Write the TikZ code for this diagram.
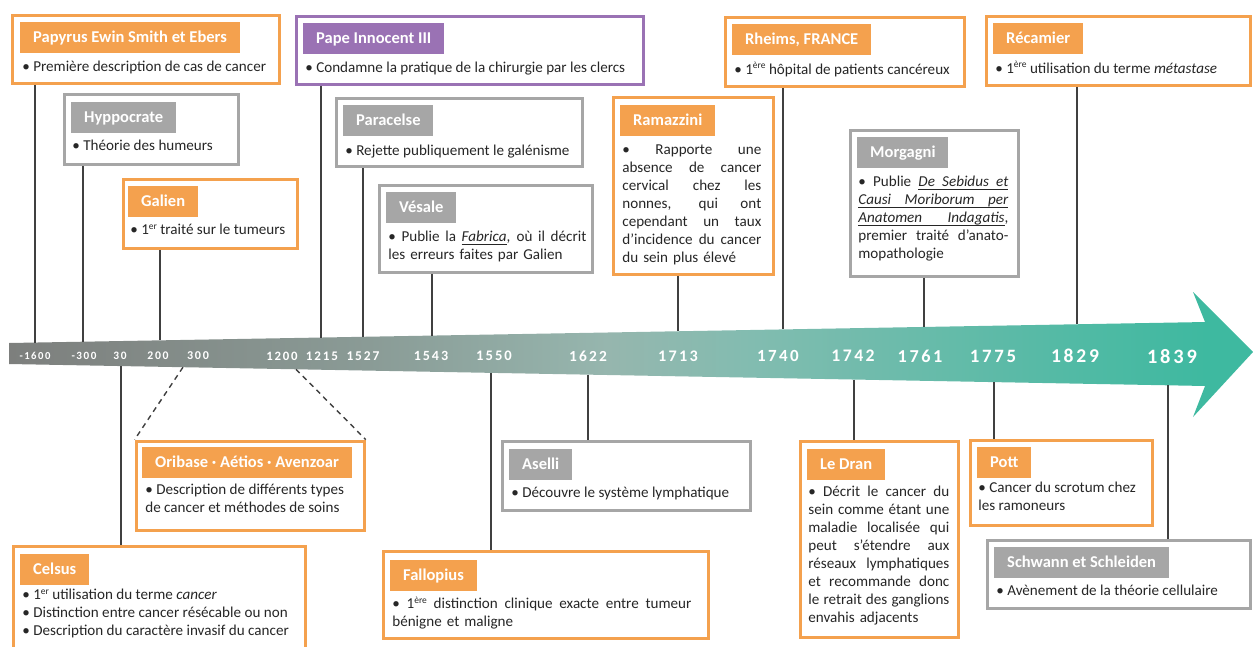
\documentclass[tikz,border=0pt]{standalone}
\usepackage{fontspec}
\setmainfont{Carlito}
\newfontfamily\yearfont[LetterSpace=14]{Carlito}
\usetikzlibrary{
  positioning,
  calc
}

\definecolor{evorange}{RGB}{244,161,78}
\definecolor{evgray}{RGB}{166,166,166}
\definecolor{evpurple}{RGB}{154,114,180}
\definecolor{bandgray}{RGB}{125,127,125}
\definecolor{bandmid}{RGB}{138,155,150}
\definecolor{bandlight}{RGB}{150,182,174}
\definecolor{bandsoft}{RGB}{130,188,176}
\definecolor{bandteal}{RGB}{62,185,160}

\pgfdeclarehorizontalshading{bandshade}{100bp}{color(0bp)=(bandgray); color(25bp)=(bandgray); color(40bp)=(bandmid); color(50bp)=(bandlight); color(56bp)=(bandsoft); color(75bp)=(bandteal); color(100bp)=(bandteal)}

\newcommand{\pxu}{0.02cm}
\newcommand{\titlefont}{\fontsize{9.4}{10}\selectfont\bfseries}
\newcommand{\bodyfont}{\fontsize{8.6}{10.25}\selectfont}
% justified line, small exponent, underlined word and underlined stretchable space
\newcommand{\jline}[1]{\makebox[\linewidth][s]{\spaceskip=\fontdimen2\font plus 2\fontdimen3\font minus \fontdimen4\font\relax #1}}
\newcommand{\expo}[1]{\raisebox{0.75ex}{\fontsize{5.4}{5}\selectfont #1}}
\newsavebox{\ulbox}
\newcommand{\ulw}[1]{\sbox\ulbox{#1}\rlap{\rule[-1.8pt]{\wd\ulbox}{0.5pt}}\usebox\ulbox}
\newcommand{\ulsp}{\leaders\hrule height -1.3pt depth 1.8pt\hskip\fontdimen2\font plus 2\fontdimen3\font minus \fontdimen4\font}

\begin{document}
\begin{tikzpicture}[x=0.02cm, y=-0.02cm,
    evbox/.style={draw=#1, line width=1.8pt, fill=white, anchor=north west, inner sep=0pt, outer sep=0.9pt},
    evtitle/.style={fill=#1, text=white, font=\titlefont, anchor=north west, inner xsep=7.3pt, inner ysep=0pt,
      minimum height=0.62cm, text height=6.8pt, text depth=2pt},
    evtext/.style={anchor=north west, font=\bodyfont, text=black!85, inner sep=0pt, align=left,
      execute at begin node=\rule{0pt}{8pt}},
    tick/.style={draw=black!75, line width=0.8pt},
    yearlbl/.style={text=white, inner sep=0pt, text depth=0pt}
  ]
  \useasboundingbox (0,0) rectangle (1253,646);
  \clip (0,0) rectangle (1253,646);

  % Timeline arrow
  \shade[shading=bandshade] (9,343) -- (1206,322) -- (1206,386) -- (9,364) -- cycle;
  \fill[bandteal] (1205,322) -- (1193,292) -- (1253,352) -- (1193,417) -- (1205,386) -- cycle;

  % Years on the arrow
  \foreach \yr/\x in {-1600/35, -300/84, 30/120, 200/158, 300/198, 1200/282, 1215/322, 1527/363,
      1543/431, 1550/494, 1622/588, 1713/678, 1740/778, 1742/853, 1761/920, 1775/993, 1829/1075, 1839/1172} {
    \pgfmathsetmacro\fs{5.9+\x/1172*5.7}
    \node[yearlbl, font=\fontsize{\fs}{\fs}\selectfont\yearfont\bfseries] (y\yr) at (\x,356) {\yr};
  }

  % Events above the arrow
  \node[evbox=evorange, minimum width=267*\pxu, minimum height=68*\pxu] (pap) at (10.6,13.6) {};
  \node[evtitle=evorange] (pap-t) at (20,22) {Papyrus Ewin Smith et Ebers};
  \node[evtext] (pap-x) at (22,57) {\textbullet\ Première description de cas de cancer};

  \node[evbox=evgray, minimum width=174*\pxu, minimum height=70*\pxu] (hyp) at (62.6,92.6) {};
  \node[evtitle=evgray] (hyp-t) at (71,102) {Hyppocrate};
  \node[evtext] (hyp-x) at (72,136) {\textbullet\ Théorie des humeurs};

  \node[evbox=evorange, minimum width=174*\pxu, minimum height=69*\pxu] (gal) at (121.6,177.6) {};
  \node[evtitle=evorange] (gal-t) at (128,186) {Galien};
  \node[evtext] (gal-x) at (130,220) {\textbullet\ 1\expo{er} traité sur le tumeurs};

  \node[evbox=evpurple, minimum width=347*\pxu, minimum height=68*\pxu] (inn) at (294.6,14.6) {};
  \node[evtitle=evpurple] (inn-t) at (303,23) {Pape Innocent III};
  \node[evtext] (inn-x) at (305,58) {\textbullet\ Condamne la pratique de la chirurgie par les clercs};

  \node[evbox=evgray, minimum width=246*\pxu, minimum height=68*\pxu] (par) at (334.6,96.6) {};
  \node[evtitle=evgray] (par-t) at (343,105) {Paracelse};
  \node[evtext] (par-x) at (345,141) {\textbullet\ Rejette publiquement le galénisme};

  \node[evbox=evgray, minimum width=213*\pxu, minimum height=87*\pxu] (ves) at (377.6,183.6) {};
  \node[evtitle=evgray] (ves-t) at (386,192) {Vésale};
  \node[evtext, text width=198*\pxu] (ves-x) at (388,227)
    {\jline{\textbullet\ Publie la \ulw{\textit{Fabrica}}, où il décrit}\\les erreurs faites par Galien};

  \node[evbox=evorange, minimum width=160*\pxu, minimum height=177*\pxu] (ram) at (611.6,95.6) {};
  \node[evtitle=evorange] (ram-t) at (620,105) {Ramazzini};
  \node[evtext, text width=139*\pxu] (ram-x) at (622,140)
    {\jline{\textbullet\ Rapporte une}\\
     \jline{absence de cancer}\\
     \jline{cervical chez les}\\
     \jline{nonnes, qui ont}\\
     \jline{cependant un taux}\\
     \jline{d’incidence du cancer}\\
     du sein plus élevé};

  \node[evbox=evorange, minimum width=239*\pxu, minimum height=69*\pxu] (rhe) at (723.6,15.6) {};
  \node[evtitle=evorange] (rhe-t) at (732,24) {Rheims, FRANCE};
  \node[evtext] (rhe-x) at (734,60) {\textbullet\ 1\expo{ère} hôpital de patients cancéreux};

  \node[evbox=evgray, minimum width=168*\pxu, minimum height=146*\pxu] (mor) at (848.6,128.6) {};
  \node[evtitle=evgray] (mor-t) at (857,137) {Morgagni};
  \node[evtext, text width=150*\pxu] (mor-x) at (858,172)
    {\jline{\textbullet\ Publie \ulw{\textit{De}}\ulsp\ulw{\textit{Sebidus}}\ulsp\ulw{\textit{et}}}\\
     \jline{\ulw{\textit{Causi}}\ulsp\ulw{\textit{Moriborum}}\ulsp\ulw{\textit{per}}}\\
     \jline{\ulw{\textit{Anatomen}}\ulsp\ulw{\textit{Indagatis}},}\\
     \jline{premier traité d’anato-}\\
     mopathologie};

  \node[evbox=evorange, minimum width=264*\pxu, minimum height=69*\pxu] (rec) at (984.6,14.6) {};
  \node[evtitle=evorange] (rec-t) at (993,23) {Récamier};
  \node[evtext] (rec-x) at (995,59) {\textbullet\ 1\expo{ère} utilisation du terme \textit{métastase}};

  % Events below the arrow
  \node[evbox=evorange, minimum width=228*\pxu, minimum height=89*\pxu] (ori) at (134.6,439.6) {};
  \node[evtitle=evorange] (ori-t) at (142,447) {Oribase · Aétios · Avenzoar};
  \node[evtext] (ori-x) at (145,484) {\textbullet\ Description de différents types\\de cancer et méthodes de soins};

  \node[evbox=evorange, minimum width=292*\pxu, minimum height=130*\pxu] (cel) at (11.6,544.6) {};
  \node[evtitle=evorange] (cel-t) at (20,554) {Celsus};
  \node[evtext] (cel-x) at (22,589) {\textbullet\ 1\expo{er} utilisation du terme \textit{cancer}\\
    \textbullet\ Distinction entre cancer résécable ou non\\
    \textbullet\ Description du caractère invasif du cancer};

  \node[evbox=evgray, minimum width=248*\pxu, minimum height=69*\pxu] (ase) at (500.6,439.6) {};
  \node[evtitle=evgray] (ase-t) at (509,449) {Aselli};
  \node[evtext] (ase-x) at (511,483) {\textbullet\ Découvre le système lymphatique};

  \node[evbox=evorange, minimum width=325*\pxu, minimum height=87*\pxu] (fal) at (381.6,549.6) {};
  \node[evtitle=evorange] (fal-t) at (390,560) {Fallopius};
  \node[evtext, text width=299*\pxu] (fal-x) at (392,594)
    {\jline{\textbullet\ 1\expo{ère} distinction clinique exacte entre tumeur}\\bénigne et maligne};

  \node[evbox=evorange, minimum width=158*\pxu, minimum height=196*\pxu] (led) at (798.6,439.6) {};
  \node[evtitle=evorange] (led-t) at (807,449) {Le Dran};
  \node[evtext, text width=141*\pxu] (led-x) at (808,482)
    {\jline{\textbullet\ Décrit le cancer du}\\
     \jline{sein comme étant une}\\
     \jline{maladie localisée qui}\\
     \jline{peut s’étendre aux}\\
     \jline{réseaux lymphatiques}\\
     \jline{et recommande donc}\\
     \jline{le retrait des ganglions}\\
     envahis adjacents};

  \node[evbox=evorange, minimum width=182*\pxu, minimum height=85*\pxu] (pot) at (968.6,438.6) {};
  \node[evtitle=evorange] (pot-t) at (977,447) {Pott};
  \node[evtext] (pot-x) at (978,482) {\textbullet\ Cancer du scrotum chez\\les ramoneurs};

  \node[evbox=evgray, minimum width=263*\pxu, minimum height=68*\pxu] (sch) at (985.6,538.6) {};
  \node[evtitle=evgray] (sch-t) at (994,547) {Schwann et Schleiden};
  \node[evtext] (sch-x) at (996,581) {\textbullet\ Avènement de la théorie cellulaire};

  % Ticks from the boxes to the arrow
  \foreach \ev/\tx in {pap/35, hyp/83, gal/160, inn/321, par/363, ves/432, ram/678, rhe/783, mor/924, rec/1077} {
    \coordinate (t-\ev) at (\tx,{343-(\tx-9)/1196*21});
    \draw[tick] (\ev.south -| t-\ev) -- (t-\ev);
  }
  \foreach \ev/\tx in {cel/121, fal/491, ase/588, led/854, pot/994, sch/1168} {
    \coordinate (t-\ev) at (\tx,{364+(\tx-9)/1196*22});
    \draw[tick] (t-\ev) -- (\ev.north -| t-\ev);
  }

  % Dashed span 200--1200
  \coordinate (d-l) at (183,{364+(183-9)/1196*22});
  \coordinate (d-r) at (296,{364+(296-9)/1196*22});
  \draw[tick, dash pattern=on 3pt off 2.5pt] (d-l) -- (ori.north west);
  \draw[tick, dash pattern=on 3pt off 2.5pt] (d-r) -- (ori.north east);
\end{tikzpicture}
\end{document}
